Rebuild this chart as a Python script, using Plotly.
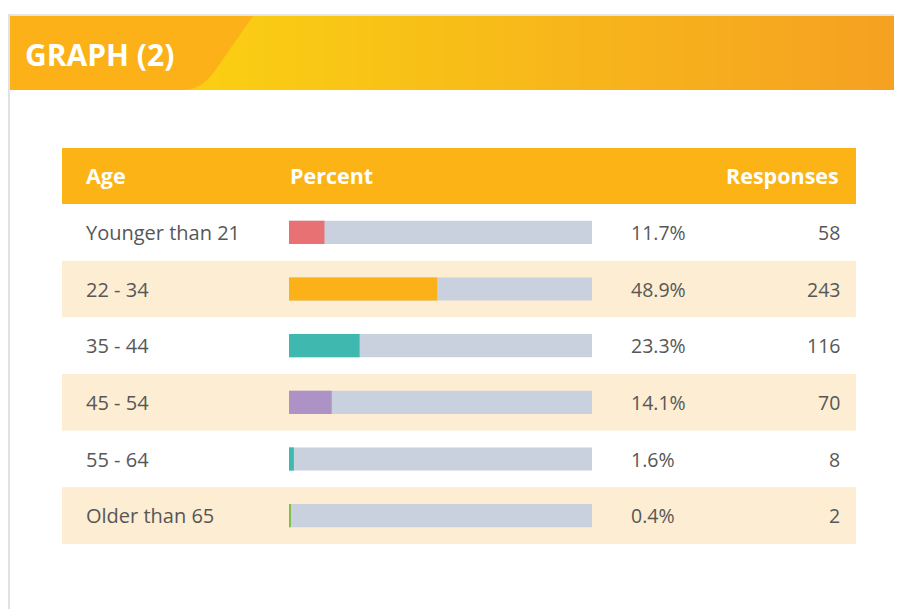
import plotly.graph_objects as go

# the page puts the plot 8px in from the top-left corner, so every pixel
# position below is shifted back by that offset
OFF = 8
W, H = 902 - OFF, 609 - OFF

ages = ["Younger than 21", "22 - 34", "35 - 44", "45 - 54", "55 - 64", "Older than 65"]
percent = [11.7, 48.9, 23.3, 14.1, 1.6, 0.4]
responses = [58, 243, 116, 70, 8, 2]
bar_colors = ["#E87273", "#FBB117", "#3FB8AF", "#AD92C6", "#3FB8AF", "#7FBF4D"]

FONT = "Open Sans"
TEXT = "#575757"


def px(x):
    return (x - OFF) / W


def py(y):
    return 1 - (y - OFF) / H


fig = go.Figure()

# grey track behind each bar
fig.add_trace(go.Bar(
    y=ages, x=[100] * len(ages), orientation="h", width=0.41,
    marker=dict(color="#CAD1DE", line_width=0), hoverinfo="skip",
))
fig.add_trace(go.Bar(
    y=ages, x=percent, orientation="h", width=0.41,
    marker=dict(color=bar_colors, line_width=0),
))

shapes = []
# card borders
shapes.append(dict(type="line", xref="paper", yref="paper", x0=px(9), x1=px(9), y0=py(15), y1=0,
                   line=dict(color="#E2E2E2", width=2)))
shapes.append(dict(type="line", xref="paper", yref="paper", x0=0, x1=1, y0=py(15), y1=py(15),
                   line=dict(color="#DDDDDD", width=1.5)))

# header gradient, drawn as thin strips
c0, c1 = (250, 208, 18), (245, 160, 34)
x = 180
while x < 902:
    t = (x - 180) / (902 - 180)
    c = tuple(round(a + (b - a) * t) for a, b in zip(c0, c1))
    shapes.append(dict(type="rect", xref="paper", yref="paper", x0=px(x), x1=px(x + 5),
                       y0=py(90), y1=py(16), line_width=0, fillcolor="rgb(%d,%d,%d)" % c, layer="below"))
    x += 4

# darker slanted tab
path = "M %f,%f L %f,%f L %f,%f Q %f,%f %f,%f L %f,%f L %f,%f Z" % (
    0, py(16), px(253), py(16), px(214), py(72),
    px(201), py(90), px(182), py(90), 0, py(90), 0, py(16))
shapes.append(dict(type="path", xref="paper", yref="paper", path=path, line_width=0,
                   fillcolor="#FBB117", layer="below"))

# table header
shapes.append(dict(type="rect", xref="paper", yref="paper", x0=px(62), x1=px(856), y0=py(204), y1=py(148),
                   line_width=0, fillcolor="#FCB316", layer="below"))

# zebra rows
for i, a in enumerate(ages):
    shapes.append(dict(type="rect", xref="paper", yref="y", x0=px(62), x1=px(856), y0=i - 0.5, y1=i + 0.5,
                       line_width=0, fillcolor="#FCEDD3" if i % 2 else "#FFFFFF", layer="below"))

annotations = [
    dict(text="<b>GRAPH (2)</b>", x=px(23), y=py(54), xref="paper", yref="paper", xanchor="left",
         yanchor="middle", showarrow=False, font=dict(family=FONT, size=30, color="white")),
    dict(text="<b>Age</b>", x=px(84), y=py(176), xref="paper", yref="paper", xanchor="left",
         yanchor="middle", showarrow=False, font=dict(family=FONT, size=21.5, color="white")),
    dict(text="<b>Percent</b>", x=px(288), y=py(176), xref="paper", yref="paper", xanchor="left",
         yanchor="middle", showarrow=False, font=dict(family=FONT, size=21.5, color="white")),
    dict(text="<b>Responses</b>", x=px(841), y=py(176), xref="paper", yref="paper", xanchor="right",
         yanchor="middle", showarrow=False, font=dict(family=FONT, size=21.5, color="white")),
]
for a, p, r in zip(ages, percent, responses):
    annotations.append(dict(text=a, x=px(84), y=a, xref="paper", yref="y", xanchor="left", yanchor="middle",
                            showarrow=False, font=dict(family=FONT, size=20, color=TEXT)))
    annotations.append(dict(text="%.1f%%" % p, x=px(629), y=a, xref="paper", yref="y", xanchor="left",
                            yanchor="middle", showarrow=False, font=dict(family=FONT, size=19.5, color=TEXT)))
    annotations.append(dict(text=str(r), x=px(842), y=a, xref="paper", yref="y", xanchor="right",
                            yanchor="middle", showarrow=False, font=dict(family=FONT, size=19.5, color=TEXT)))

fig.update_layout(
    width=W, height=H,
    margin=dict(l=0, r=0, t=0, b=0),
    paper_bgcolor="white", plot_bgcolor="rgba(0,0,0,0)",
    barmode="overlay", showlegend=False,
    shapes=shapes, annotations=annotations,
    xaxis=dict(domain=[px(289), px(592)], range=[0, 100], visible=False, fixedrange=True),
    yaxis=dict(domain=[py(544), py(204)], range=[5.5, -0.5], visible=False, fixedrange=True,
               categoryorder="array", categoryarray=ages),
)

fig.write_html("out.html")
